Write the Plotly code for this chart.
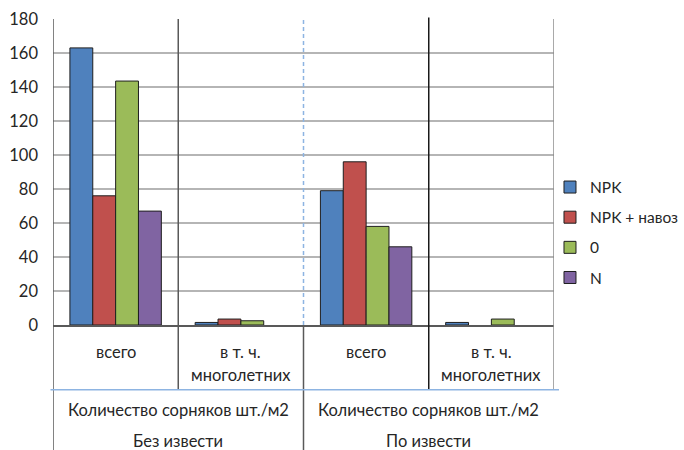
import plotly.graph_objects as go

# Weed counts per m2 by fertilizer variant
subcategories = ["всего", "в т. ч.<br>многолетних", "всего", "в т. ч.<br>многолетних"]
measure = "Количество сорняков шт./м2"
liming = ["Без извести", "По извести"]

series_names = ["NPK", "NPK + навоз", "0", "N"]
npk = [163, 1.5, 79, 1.5]
npk_manure = [76, 3.5, 96, 0]
zero = [143.5, 2.5, 58, 3.5]
n_only = [67, 0, 46, 0]
colors = ["#4F81BD", "#C0504D", "#9BBB59", "#8064A2"]

yticks = [0, 20, 40, 60, 80, 100, 120, 140, 160, 180]

FONT = "Lato"
TXT = "#262626"
FS = 16.5

x_idx = list(range(len(subcategories)))
fig = go.Figure()
for i, (name, vals) in enumerate(zip(series_names, [npk, npk_manure, zero, n_only])):
    # no outline on empty bars
    widths = [1 if v > 0 else 0 for v in vals]
    fig.add_trace(go.Bar(
        x=x_idx, y=vals, name=name, legendgroup=name,
        marker=dict(color=colors[i], line=dict(color="#1f1f1f", width=widths)),
    ))

fig.update_layout(
    width=684, height=450,
    margin=dict(l=53, r=130, t=19, b=125, autoexpand=False),
    paper_bgcolor="white", plot_bgcolor="white",
    barmode="group", bargap=0.27, bargroupgap=0,
    font=dict(family=FONT, size=FS, color=TXT),
    legend=dict(x=0.992, y=0.505, xanchor="left", yanchor="top",
                bgcolor="rgba(0,0,0,0)",
                font=dict(family=FONT, size=15.5, color=TXT),
                tracegroupgap=7, itemwidth=30),
    showlegend=True,
)
fig.update_xaxes(range=[-0.5, len(subcategories) - 0.5], showticklabels=False,
                 showgrid=False, zeroline=False, showline=True,
                 linecolor="#595959", linewidth=1.5, fixedrange=True)
fig.update_yaxes(range=[0, 180], tickvals=yticks, ticks="",
                 showgrid=True, gridcolor="#b5b5b5", gridwidth=1.5,
                 zeroline=False, showline=False, ticklabelstandoff=14,
                 tickfont=dict(family=FONT, size=FS, color=TXT))

# Category table below the plot: row boundaries in paper units
row1_bottom = -0.212
table_bottom = -0.43

def vline(x, y0, y1, color, width=1.5, dash="solid"):
    fig.add_shape(type="line", xref="x", yref="paper", x0=x, x1=x, y0=y0, y1=y1,
                  line=dict(color=color, width=width, dash=dash), layer="above")

vline(-0.5, table_bottom, 1, "#595959")
vline(0.5, row1_bottom, 1, "#595959")
vline(1.5, 0, 1, "#8DB4E2", 1.5, "4px,3px")
vline(1.5, table_bottom, 0, "#595959")
vline(2.5, row1_bottom, 1.005, "#1a1a1a")
vline(3.5, row1_bottom, 1, "#8c8c8c")
fig.add_shape(type="line", xref="paper", yref="paper", x0=-0.005, x1=1.01,
              y0=row1_bottom, y1=row1_bottom,
              line=dict(color="#8DB4E2", width=1.5))

line_y = [-0.088, -0.163]
for i, label in enumerate(subcategories):
    for k, part in enumerate(label.split("<br>")):
        fig.add_annotation(x=i, y=line_y[k], xref="x", yref="paper", text=part,
                           showarrow=False, font=dict(family=FONT, size=FS, color=TXT),
                           yanchor="middle")
for j, label in enumerate(liming):
    xc = 2 * j + 0.5
    fig.add_annotation(x=xc, y=-0.278, xref="x", yref="paper", text=measure,
                       showarrow=False, font=dict(family=FONT, size=FS, color=TXT),
                       yanchor="middle")
    fig.add_annotation(x=xc, y=-0.38, xref="x", yref="paper", text=label,
                       showarrow=False, font=dict(family=FONT, size=FS, color=TXT),
                       yanchor="middle")

fig.write_html("out.html")
